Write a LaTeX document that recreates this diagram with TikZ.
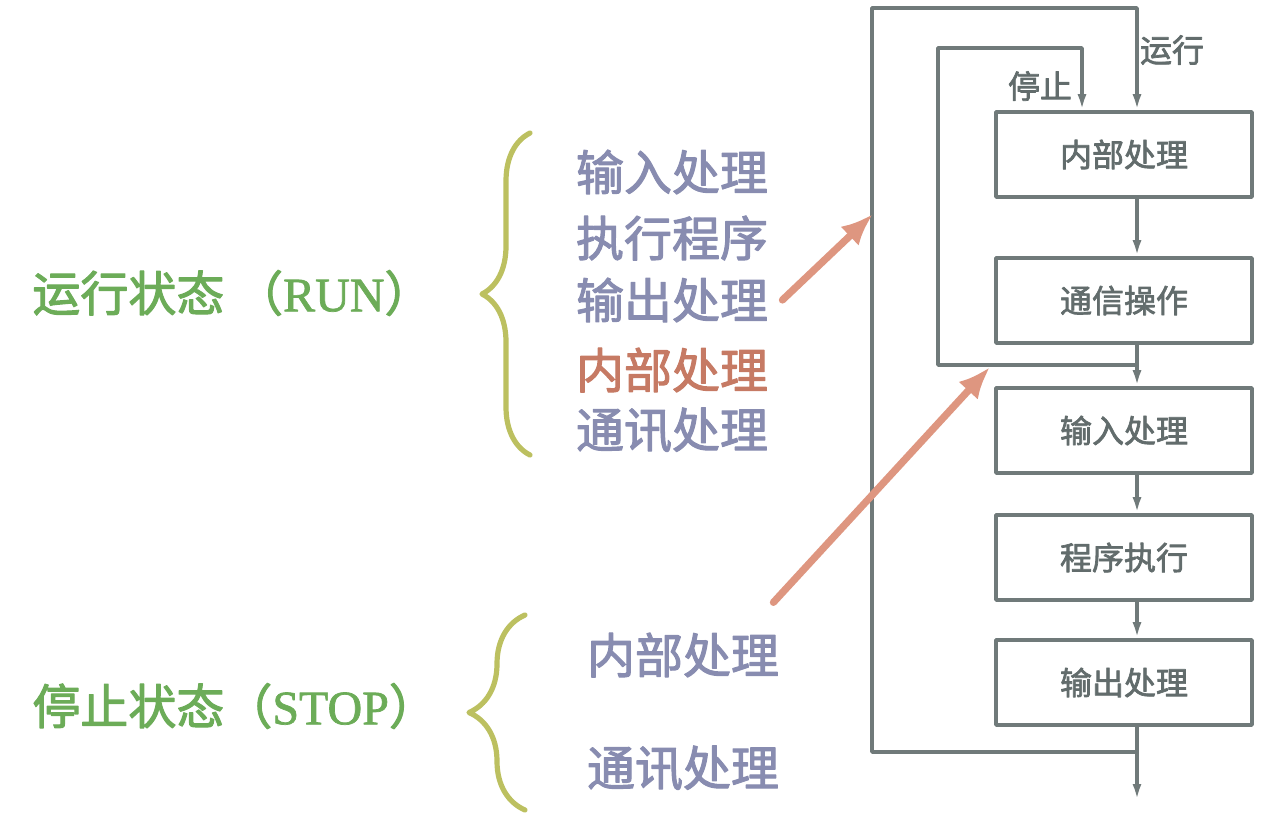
\documentclass[tikz,border=0pt]{standalone}
\usepackage{fontspec}
\newfontfamily\cjk{Noto Sans CJK SC}
\newfontfamily\cjkb{Noto Sans CJK SC}[FakeBold=2.2]
\newfontfamily\latb{Liberation Serif}[FakeBold=1.5]
\usetikzlibrary{arrows.meta,decorations.pathreplacing}
\definecolor{linegray}{RGB}{112,122,122}
\definecolor{boxtext}{RGB}{98,108,108}
\definecolor{stategreen}{RGB}{108,172,88}
\definecolor{itemblue}{RGB}{136,140,176}
\definecolor{salmon}{RGB}{198,122,100}
\definecolor{hintpeach}{RGB}{222,150,128}
\definecolor{braceyellow}{RGB}{188,192,96}
\begin{document}
\begin{tikzpicture}[x=0.5pt,y=-0.5pt,line join=round,font=\cjk,
>={Latex[length=8pt,width=4.5pt]},
procbox/.style={draw=linegray,line width=1.8pt,minimum width=128pt,minimum height=42.5pt,inner sep=0pt,text=boxtext,font=\cjkb\fontsize{16pt}{16pt}\selectfont},
flow/.style={draw=linegray,line width=1.8pt},
looplabel/.style={inner sep=0pt,text=boxtext,font=\cjkb\fontsize{16pt}{16pt}\selectfont},
item/.style={inner sep=0pt,text=itemblue,font=\cjkb\fontsize{24pt}{24pt}\selectfont},
state/.style={inner sep=0pt,anchor=west,text=stategreen,font=\cjkb\fontsize{24pt}{24pt}\selectfont},
curly/.style={draw=braceyellow,line width=2.6pt,line cap=round,decorate,decoration={brace,amplitude=#1}},
hint/.style={draw=hintpeach,line width=3.6pt,line cap=round,-{Latex[length=16pt,width=13pt]}}]
\useasboundingbox (0,0) rectangle (1273,837);
% scan cycle boxes
\foreach \n/\y/\t in {n1/154.5/内部处理, n2/300.5/通信操作, n3/430.5/输入处理, n4/557.5/程序执行, n5/682.5/输出处理}
\node[procbox] (\n) at (1124,\y) {\t};
\path
(1137,0) coordinate (sp)
(1137,752) coordinate (jo)
(872,752) coordinate (o1)
(872,8) coordinate (o2)
(1137,365) coordinate (ji)
(938,365) coordinate (i1)
(938,48) coordinate (i2)
(1082,48) coordinate (i3)
(1137,800) coordinate (out)
(873,214) coordinate (hitO)
(990,367) coordinate (hitI)
;
\foreach \a/\b in {n1/n2, n2/n3, n3/n4, n4/n5}
\draw[flow,->] (\a.south -| sp) -- (\b.north -| sp);
\draw[flow,->] (n5.south -| sp) -- (out);
% RUN loop and STOP loop
\draw[flow,->] (jo) -- (o1) -- (o2) -- (o2 -| sp) -- (n1.north -| sp);
\draw[flow,->] (ji) -- (i1) -- (i2) -- (i3) -- (n1.north -| i3);
\node[looplabel] (lrun) at (1172,50) {运行};
\node[looplabel] (lstop) at (1040,86) {停止};
% left side
\node[state] (run) at (32,293) {运行状态 （{\latb RUN}）};
\node[state] (stop) at (32,706) {停止状态（{\latb STOP}）};
\foreach \n/\y/\t in {r1/172/输入处理, r2/238/执行程序, r3/300/输出处理, r5/430/通讯处理}
\node[item] (\n) at (672,\y) {\t};
\node[item,text=salmon] (r4) at (672,370) {内部处理};
\node[item] (s1) at (683,655) {内部处理};
\node[item] (s2) at (683,768) {通讯处理};
\draw[curly=24pt] (530,455) -- (530,133);
\draw[curly=28pt] (525,810) -- (525,615);
\draw[hint] ([xshift=7pt]r3.east) -- (hitO);
\draw[hint] ([xshift=-3pt,yshift=15pt]s1.north east) -- (hitI);
\end{tikzpicture}
\end{document}
